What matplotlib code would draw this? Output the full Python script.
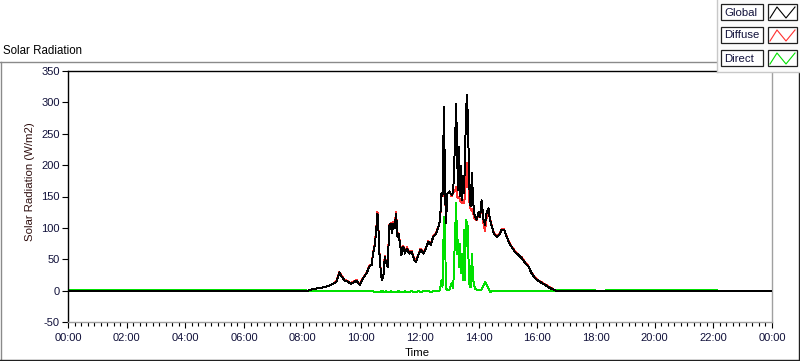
import numpy as np
import matplotlib
matplotlib.use("Agg")
import matplotlib.pyplot as plt
from matplotlib.lines import Line2D
from matplotlib.patches import Rectangle

plt.rcParams['font.family'] = ['Liberation Sans', 'DejaVu Sans']

# ---- data (time in minutes after midnight) ----
t_min = [0, 480, 490, 495, 505, 515, 525, 535, 543, 549, 555, 560, 566, 573, 578, 584, 590, 597, 604, 611, 616, 621,
         624, 628, 631, 633, 635, 637, 640, 642, 645, 648, 650, 654, 657, 660, 663, 665,
         668, 671, 674, 676, 679, 682, 686, 689, 693, 698, 703, 708, 712, 717, 721, 727,
         732, 737, 742, 747, 753, 758, 761, 764, 766, 769, 771, 773, 776, 780, 785, 788,
         792, 794, 796, 798, 800, 802, 804, 806, 808, 810, 812, 814, 816, 818, 820, 822,
         824, 826, 829, 832, 836, 840, 843, 846, 850, 853, 856, 860, 863, 867, 871, 877,
         882, 887, 892, 897, 903, 907, 914, 921, 928, 935, 942, 948, 955, 965, 976, 986,
         998, 1006, 1074, 1080, 1211, 1323, 1330, 1440]

global_rad = [0, 0, 0, 1, 3, 4, 6, 8, 11, 14, 29, 22, 16, 14, 11, 13, 16, 9, 20, 28, 38, 41,
              59, 75, 102, 123, 97, 59, 28, 17, 22, 54, 46, 38, 102, 107, 91, 107,
              99, 123, 86, 91, 75, 57, 70, 59, 67, 59, 62, 49, 46, 57, 65, 59,
              67, 78, 73, 86, 91, 102, 113, 155, 150, 293, 176, 107, 155, 158, 152, 158,
              245, 298, 213, 160, 229, 150, 198, 144, 182, 155, 208, 282, 312, 272, 198, 139,
              134, 187, 139, 118, 113, 126, 118, 144, 113, 105, 123, 131, 113, 102, 91, 86,
              89, 97, 97, 86, 75, 70, 62, 57, 52, 44, 38, 28, 20, 14, 9, 4,
              0, 0, 0, 0, 0, 0, 0, 0]

diffuse_rad = [0, 0, 0, 1, 3, 4, 6, 8, 11, 15, 30, 23, 17, 15, 12, 14, 17, 10, 21, 29, 39, 42,
               60, 77, 104, 126, 99, 62, 29, 19, 23, 56, 47, 40, 104, 108, 93, 109,
               101, 125, 88, 92, 77, 59, 72, 60, 69, 61, 63, 51, 48, 58, 67, 60,
               68, 79, 75, 87, 92, 103, 113, 150, 150, 172, 168, 110, 155, 158, 150, 156,
               160, 165, 150, 148, 150, 142, 146, 140, 145, 140, 150, 175, 203, 185, 150, 134,
               128, 130, 122, 114, 112, 125, 117, 142, 106, 95, 115, 128, 115, 103, 92, 87,
               90, 98, 98, 87, 76, 71, 63, 58, 53, 45, 39, 29, 21, 15, 10, 5,
               0, 0, 0, 0, 0, 0, 0, 0]

direct_rad = [1.5, 1.5, 0, 0, 0, 0, 0, 0, 0, -1, -1, -1, -1, -1, -1, -1, -1, -1, -1, -1, -1, -1,
              -1, -2, -2, -3, -2, -3, -1, -2, -1, -2, -1, -2, -2, -1, -2, -2,
              -2, -2, -2, -1, -2, -2, -2, -1, -2, -2, -1, -2, -2, -1, -2, -1,
              -1, -1, -2, -1, -1, -1, 1, 17, 6, 118, 107, 4, 1, 1, 12, 4,
              97, 139, 59, 81, 38, 75, 28, 59, 17, 97, 17, 113, 107, 102, 17, 6,
              6, 59, 17, 4, 1, 1, 1, 2, 8, 14, 10, 4, -2, -1, -1, -1,
              -1, -1, -1, -1, -1, -1, -1, -1, -1, -1, -1, -1, -1, -1, -1, 0,
              0, 1.5, 1.5, 0, 1.5, 1.5, 0, 0]

series_names = ["Global", "Diffuse", "Direct"]
series_colors = ["#000000", "#ff3030", "#00e000"]

y_ticks = [-50, 0, 50, 100, 150, 200, 250, 300, 350]
x_tick_labels = ["00:00", "02:00", "04:00", "06:00", "08:00", "10:00", "12:00",
                 "14:00", "16:00", "18:00", "20:00", "22:00", "00:00"]

W, H = 800, 361
fig = plt.figure(figsize=(W / 100, H / 100), dpi=100)
fig.patch.set_facecolor("white")

def fx(px):
    return px / W

def fy(py):
    return 1 - py / H

L, R, T, B = 68, 772, 71, 322
ax = fig.add_axes([fx(L), fy(B), fx(R - L), (B - T) / H])

t_h = np.array(t_min) / 60.0
ax.plot(t_h, direct_rad, color=series_colors[2], lw=0.7, zorder=2, antialiased=False)
ax.plot(t_h, diffuse_rad, color=series_colors[1], lw=0.7, zorder=3, antialiased=False)
ax.plot(t_h, global_rad, color=series_colors[0], lw=0.7, zorder=4, antialiased=False)

ax.set_xlim(0, 24)
ax.set_ylim(-50, 350)
ax.set_yticks(y_ticks)
ax.set_yticklabels([str(v) for v in y_ticks])
ax.set_xticks(np.arange(0, 25, 2))
ax.set_xticklabels(x_tick_labels)
ax.set_xticks(np.linspace(0, 24, 12 * 9 + 1), minor=True)
ax.tick_params(axis='both', which='major', direction='out', length=4, width=0.8,
               color='black', labelsize=8, labelcolor='#10103a')
ax.tick_params(axis='x', which='major', pad=4)
ax.tick_params(axis='y', which='major', pad=2)
ax.tick_params(axis='x', which='minor', direction='out', length=3, width=0.8, color='black')
ax.tick_params(axis='y', which='minor', left=False)

for s in ['top', 'left']:
    ax.spines[s].set_color('black')
    ax.spines[s].set_linewidth(1.0)
for s in ['right', 'bottom']:
    ax.spines[s].set_color('#a0a0a0')
    ax.spines[s].set_linewidth(1.0)

# labels
fig.text(fx(30), fy(182), "Solar Radiation (W/m2)", rotation=90, ha='center', va='center',
         fontsize=8.2, color='#301010')
fig.text(fx(417), fy(353), "Time", ha='center', va='center', fontsize=8.2, color='black')
fig.text(fx(3), fy(51), "Solar Radiation", ha='left', va='center', fontsize=8.3, color='black')

# outer frame
fig.add_artist(Line2D([fx(0), fx(717)], [fy(61.5), fy(61.5)], color='#8a8a8a', lw=1.0))
fig.add_artist(Line2D([fx(0.5), fx(0.5)], [fy(61.5), fy(361)], color='#8a8a8a', lw=1.0))
fig.add_artist(Line2D([fx(799), fx(799)], [fy(72), fy(360)], color='#202020', lw=1.0))
fig.add_artist(Line2D([fx(0), fx(800)], [fy(360), fy(360)], color='#202020', lw=1.0))

# legend panel
fig.add_artist(Rectangle((fx(717), fy(72)), fx(83), 72 / H, facecolor='#fbfbfb',
                         edgecolor='none', zorder=5))
fig.add_artist(Line2D([fx(717), fx(717)], [fy(0), fy(72)], color='#c8c8c8', lw=1.0, zorder=6))
fig.add_artist(Line2D([fx(717), fx(800)], [fy(72), fy(72)], color='#c8c8c8', lw=1.0, zorder=6))

box_tops = [4, 27, 50]
box_h = 16
for name, col, top in zip(series_names, series_colors, box_tops):
    fig.add_artist(Rectangle((fx(721), fy(top + box_h)), fx(42), box_h / H,
                             facecolor='white', edgecolor='#202020', lw=0.9, zorder=7))
    fig.text(fx(724), fy(top + box_h / 2 + 0.5), name, ha='left', va='center',
             fontsize=8.2, color='#10103a', zorder=8)
    fig.add_artist(Rectangle((fx(768), fy(top + box_h)), fx(29), box_h / H,
                             facecolor='white', edgecolor='#202020', lw=0.9, zorder=7))
    xs = [770, 777, 786, 795]
    ys = [top + 14, top + 3, top + 14, top + 3]
    fig.add_artist(Line2D([fx(v) for v in xs], [fy(v) for v in ys], color=col, lw=0.8, zorder=8))

fig.savefig("out.png", dpi=100)
